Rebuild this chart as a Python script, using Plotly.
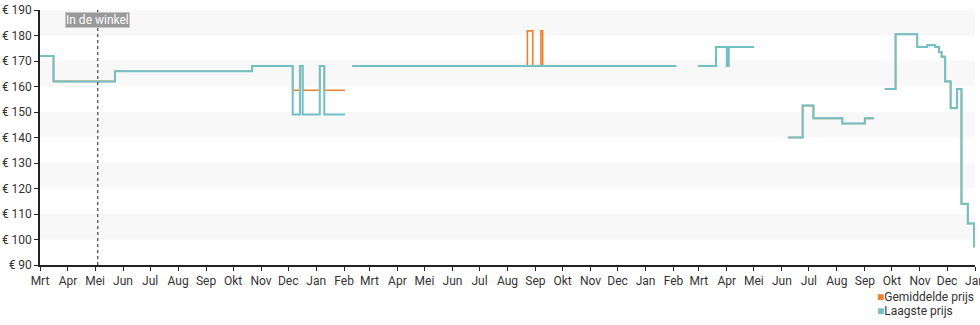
import plotly.graph_objects as go

# Lowest price (Laagste prijs)
low_dates = [
    "2021-03-01", "2021-03-16", "2021-05-23", "2021-10-22", "2021-12-06", "2021-12-14",
    "2021-12-17", "2022-01-05", "2022-01-10", "2022-02-02", "2022-02-06",
    "2022-02-10", "2023-02-04", "2023-02-10",
    "2023-02-28", "2023-03-20", "2023-04-01", "2023-04-03", "2023-05-01", "2023-05-10",
    "2023-06-08", "2023-06-24", "2023-07-06", "2023-08-07", "2023-09-01", "2023-09-11", "2023-09-17",
    "2023-09-23", "2023-10-05", "2023-10-29", "2023-11-09", "2023-11-18", "2023-11-22",
    "2023-11-25", "2023-11-29", "2023-12-05", "2023-12-12", "2023-12-17", "2023-12-24", "2023-12-31",
]
low_values = [
    172, 162, 166, 168, 149, 168,
    149, 168, 149, 149, None,
    168, 168, None,
    168, 175.5, 168, 175.5, 175.5, None,
    140, 152.5, 147.5, 145.5, 147.5, 147.5, None,
    159, 180.5, 175.5, 176.2, 175.5, 173.5,
    171.7, 162, 151.5, 159, 114, 106.3, 97,
]

# Average price (Gemiddelde prijs)
avg_dates = [
    "2021-03-01", "2021-03-16", "2021-05-23", "2021-10-22", "2021-12-06", "2021-12-14",
    "2021-12-17", "2022-01-05", "2022-01-10", "2022-02-02", "2022-02-06",
    "2022-02-10", "2022-08-23", "2022-08-29", "2022-09-07", "2022-09-09", "2023-02-04", "2023-02-10",
    "2023-02-28", "2023-03-20", "2023-04-01", "2023-04-03", "2023-05-01", "2023-05-10",
    "2023-06-08", "2023-06-24", "2023-07-06", "2023-08-07", "2023-09-01", "2023-09-11", "2023-09-17",
    "2023-09-23", "2023-10-05", "2023-10-29", "2023-11-09", "2023-11-18", "2023-11-22",
    "2023-11-25", "2023-11-29", "2023-12-05", "2023-12-12", "2023-12-17", "2023-12-24", "2023-12-31",
]
avg_values = [
    172, 162, 166, 168, 158.5, 168,
    158.5, 168, 158.5, 158.5, None,
    168, 181.8, 168, 181.8, 168, 168, None,
    168, 175.5, 168, 175.5, 175.5, None,
    140, 152.5, 147.5, 145.5, 147.5, 147.5, None,
    159, 180.5, 175.5, 176.2, 175.5, 173.5,
    171.7, 162, 151.5, 159, 114, 106.3, 97,
]

# Month ticks
tick_vals = []
for y in range(2021, 2025):
    for m in range(1, 13):
        d = f"{y}-{m:02d}-01"
        if "2021-03-01" <= d <= "2024-01-01":
            tick_vals.append(d)
month_names = ["Jan", "Feb", "Mrt", "Apr", "Mei", "Jun", "Jul", "Aug", "Sep", "Okt", "Nov", "Dec"]
tick_text = [month_names[int(d[5:7]) - 1] for d in tick_vals]

store_date = "2021-05-04"
store_label = "In de winkel"

series_names = ["Gemiddelde prijs", "Laagste prijs"]
orange = "#e8832f"
teal = "#6fc1c6"

fig = go.Figure()
fig.add_trace(go.Scatter(x=avg_dates, y=avg_values, mode="lines", line_shape="hv",
                         line=dict(color=orange, width=1.6), showlegend=False,
                         connectgaps=False, name=series_names[0]))
fig.add_trace(go.Scatter(x=low_dates, y=low_values, mode="lines", line_shape="hv",
                         line=dict(color=teal, width=2), showlegend=False,
                         connectgaps=False, name=series_names[1]))

# Alternating bands
shapes = []
for lo in range(100, 190, 20):
    shapes.append(dict(type="rect", xref="paper", yref="y", x0=0, x1=1, y0=lo, y1=lo + 10,
                       fillcolor="#f8f8f8", line=dict(width=0), layer="below"))
shapes.append(dict(type="line", xref="x", yref="paper", x0=store_date, x1=store_date, y0=0, y1=1,
                   line=dict(color="#444", width=1.2, dash="dot")))

annotations = [
    dict(x=store_date, xref="x", y=0.962, yref="paper", text=store_label, showarrow=False,
         font=dict(family="Roboto", size=12, color="white"), bgcolor="#9a9a9a",
         bordercolor="#c4c4c4", borderwidth=1, borderpad=0, xanchor="center", yanchor="middle"),
    dict(x=0.893, xref="paper", y=-0.125, yref="paper", xanchor="left", yanchor="middle",
         text=f"<span style='color:{orange}'>■</span>{series_names[0]}", showarrow=False,
         font=dict(family="Roboto", size=12, color="#333")),
    dict(x=0.893, xref="paper", y=-0.18, yref="paper", xanchor="left", yanchor="middle",
         text=f"<span style='color:{teal}'>■</span>{series_names[1]}", showarrow=False,
         font=dict(family="Roboto", size=12, color="#333")),
]

fig.update_layout(
    width=980, height=325,
    margin=dict(l=40, r=5, t=10, b=60),
    paper_bgcolor="white", plot_bgcolor="white",
    font=dict(family="Roboto", size=12, color="#333"),
    shapes=shapes, annotations=annotations,
    showlegend=False,
)
fig.update_xaxes(range=["2021-03-01", "2024-01-01"], tickvals=tick_vals, ticktext=tick_text,
                 showgrid=False, showline=True, linecolor="#222", linewidth=1.5,
                 ticks="outside", ticklen=4, tickcolor="#222", tickfont=dict(size=12, color="#333"),
                 zeroline=False, automargin=False, ticklabeloverflow="allow")
fig.update_yaxes(range=[90, 190], dtick=10, tickprefix="€ ", showgrid=False, showline=True,
                 linecolor="#222", linewidth=1.5, ticks="outside", ticklen=4, tickcolor="#222",
                 tickfont=dict(size=12, color="#333"), zeroline=False, automargin=False)

fig.write_html("out.html")
